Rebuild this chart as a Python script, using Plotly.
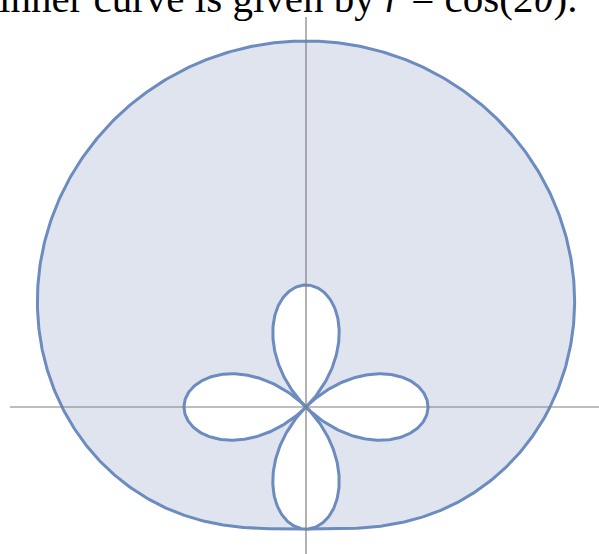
import numpy as np
import plotly.graph_objects as go

# curve definitions: outer r = a + b*sin(theta), inner r = cos(k*theta)
outer_coef = [2, 1]
inner_k = 2
n_pts = 721

title_text = "inner curve is given by <i>r</i> = cos(2<i>θ</i>)."

line_col = "#6c8bbf"
fill_col = "#dfe4ef"
axis_col = "#7f7f7f"

theta = np.linspace(0, 2 * np.pi, n_pts)
r_out = outer_coef[0] + outer_coef[1] * np.sin(theta)
r_in = np.cos(inner_k * theta)

fig = go.Figure()
fig.add_trace(go.Scatter(x=r_out * np.cos(theta), y=r_out * np.sin(theta),
                         mode="lines", fill="toself", fillcolor=fill_col,
                         line=dict(color=line_col, width=3), hoverinfo="skip"))
fig.add_trace(go.Scatter(x=r_in * np.cos(theta), y=r_in * np.sin(theta),
                         mode="lines", fill="toself", fillcolor="white",
                         line=dict(color=line_col, width=3), hoverinfo="skip"))

# pixel frame: origin at (306, 407), 122 px per unit
W, H = 599, 554
ox, oy, u = 306, 407, 122
xr = [(0 - ox) / u, (W - ox) / u]
yr = [-(H - oy) / u, oy / u]

fig.add_shape(type="line", x0=(10 - ox) / u, x1=xr[1], y0=0, y1=0,
              line=dict(color=axis_col, width=1.2), layer="above")
fig.add_shape(type="line", x0=0, x1=0, y0=yr[0], y1=(oy - 17) / u,
              line=dict(color=axis_col, width=1.2), layer="above")

fig.add_annotation(text=title_text, xref="paper", yref="paper",
                   x=-3 / W, y=1 - 23 / H, xanchor="left", yanchor="bottom",
                   showarrow=False,
                   font=dict(family="Liberation Serif", size=41, color="black"))

fig.update_xaxes(range=xr, visible=False, showgrid=False, zeroline=False)
fig.update_yaxes(range=yr, visible=False, showgrid=False, zeroline=False)
fig.update_layout(width=W, height=H, margin=dict(l=0, r=0, t=0, b=0),
                  showlegend=False, plot_bgcolor="white", paper_bgcolor="white")

# drop the default page margin so the figure sits at the window corner
fig.write_html("out.html", config={"displayModeBar": False},
               post_script="document.body.style.margin = '0';")
